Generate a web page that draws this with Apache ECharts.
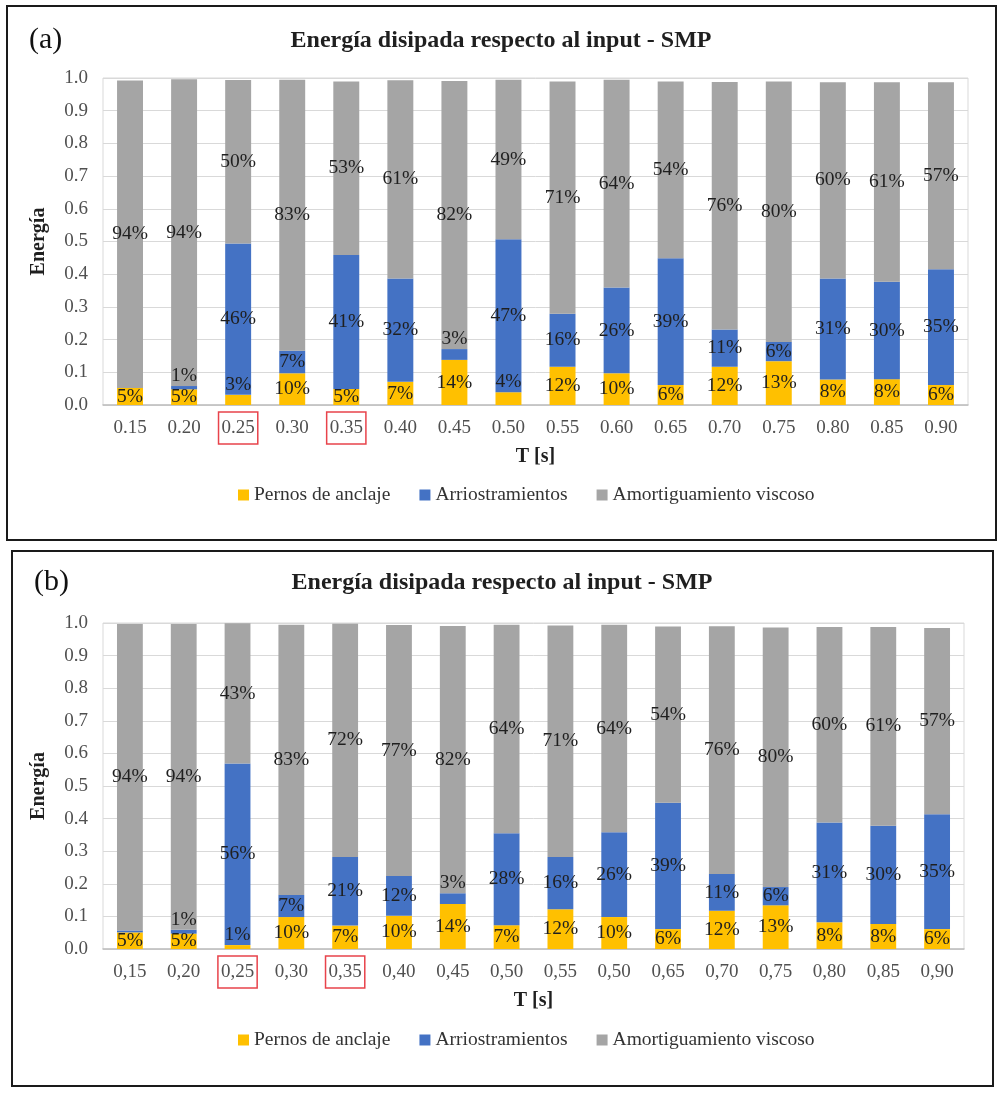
<!DOCTYPE html>
<html>
<head>
<meta charset="utf-8">
<script src="https://cdn.jsdelivr.net/npm/echarts@6/dist/echarts.min.js"></script>
<style>
  html, body { margin: 0; padding: 0; background: #fff; }
  #chart { width: 1000px; height: 1093px; }
</style>
</head>
<body>
<div id="chart"></div>
<script>
// Periods T [s]
const categories = ['0.15', '0.20', '0.25', '0.30', '0.35', '0.40', '0.45', '0.50',
                    '0.55', '0.60', '0.65', '0.70', '0.75', '0.80', '0.85', '0.90'];
// Tick labels as printed in each panel
const tickLabelsA = ['0.15', '0.20', '0.25', '0.30', '0.35', '0.40', '0.45', '0.50',
                     '0.55', '0.60', '0.65', '0.70', '0.75', '0.80', '0.85', '0.90'];
const tickLabelsB = ['0,15', '0,20', '0,25', '0,30', '0,35', '0,40', '0,45', '0,50',
                     '0,55', '0,50', '0,65', '0,70', '0,75', '0,80', '0,85', '0,90'];
// Periods boxed in red
const highlighted = ['0.25', '0.35'];

const seriesNames = ['Pernos de anclaje', 'Arriostramientos', 'Amortiguamiento viscoso'];

// Panel (a): dissipated energy fraction
const pernosA   = [0.052, 0.048, 0.031, 0.097, 0.049, 0.071, 0.138, 0.039, 0.117, 0.097, 0.061, 0.117, 0.134, 0.078, 0.079, 0.061];
const arriostA  = [0.000, 0.010, 0.463, 0.069, 0.410, 0.316, 0.033, 0.468, 0.162, 0.262, 0.388, 0.114, 0.059, 0.309, 0.298, 0.354];
const viscosoA  = [0.940, 0.938, 0.500, 0.829, 0.530, 0.606, 0.820, 0.488, 0.710, 0.636, 0.540, 0.757, 0.796, 0.600, 0.610, 0.572];

// Panel (b)
const pernosB   = [0.051, 0.047, 0.012, 0.098, 0.072, 0.102, 0.138, 0.073, 0.122, 0.098, 0.061, 0.117, 0.134, 0.082, 0.077, 0.061];
const arriostB  = [0.006, 0.012, 0.557, 0.068, 0.210, 0.122, 0.033, 0.282, 0.160, 0.260, 0.388, 0.113, 0.056, 0.306, 0.301, 0.352];
const viscosoB  = [0.940, 0.938, 0.430, 0.829, 0.716, 0.770, 0.820, 0.640, 0.710, 0.637, 0.540, 0.760, 0.796, 0.600, 0.610, 0.572];

const colors = ['#FFC000', '#4472C4', '#A5A5A5'];
const SERIF = "'Liberation Serif', 'Times New Roman', serif";

const chart = echarts.init(document.getElementById('chart'), null, { renderer: 'canvas' });

// Segment values become bar items; thin segments carry their label just above them
function toItems(values) {
  return values.map(v => {
    if (v < 0.008) return { value: v, label: { show: false } };
    if (v < 0.04) return { value: v, label: { position: 'top', distance: 0 } };
    return v;
  });
}

function makeSeries(idx, stack, data) {
  return data.map((vals, i) => ({
    name: seriesNames[i],
    type: 'bar',
    stack: stack,
    xAxisIndex: idx,
    yAxisIndex: idx,
    barWidth: '48%',
    itemStyle: { color: colors[i] },
    label: {
      show: true,
      position: 'inside',
      fontFamily: SERIF,
      fontSize: 19.5,
      color: '#1f1f1f',
      formatter: p => Math.round(p.value * 100) + '%'
    },
    data: toItems(vals)
  }));
}

function xAxisFor(idx, labels) {
  return {
    type: 'category',
    gridIndex: idx,
    data: categories,
    name: 'T [s]',
    nameLocation: 'middle',
    nameGap: 52,
    nameTextStyle: { fontFamily: SERIF, fontSize: 20, fontWeight: 'bold', color: '#1f1f1f', verticalAlign: 'middle' },
    axisLine: { lineStyle: { color: '#BFBFBF', width: 1.5 } },
    axisTick: { show: false },
    axisLabel: {
      interval: 0,
      margin: 7,
      formatter: (v, i) => (highlighted.includes(v) ? '{hl|' : '{n|') + labels[i] + '}',
      rich: {
        n: { fontFamily: SERIF, fontSize: 19, color: '#505050', padding: [7, 3, 6, 3] },
        hl: { fontFamily: SERIF, fontSize: 19, color: '#505050', padding: [7, 3, 6, 3],
              borderColor: '#E8434B', borderWidth: 1.5 }
      }
    }
  };
}

function yAxisFor(idx) {
  return {
    type: 'value',
    gridIndex: idx,
    min: 0,
    max: 1,
    interval: 0.1,
    name: 'Energía',
    nameLocation: 'middle',
    nameGap: 64,
    nameTextStyle: { fontFamily: SERIF, fontSize: 20, fontWeight: 'bold', color: '#1f1f1f', verticalAlign: 'middle' },
    axisLine: { show: false },
    axisTick: { show: false },
    splitLine: { lineStyle: { color: '#D9D9D9', width: 1 } },
    axisLabel: {
      margin: 15,
      fontFamily: SERIF,
      fontSize: 19,
      color: '#505050',
      formatter: v => v.toFixed(1)
    }
  };
}

function legendFor(top) {
  return {
    top: top,
    left: 233,
    itemWidth: 11,
    itemHeight: 11,
    itemGap: 29,
    icon: 'rect',
    data: seriesNames,
    textStyle: { fontFamily: SERIF, fontSize: 19.5, color: '#333' }
  };
}

const title = 'Energía disipada respecto al input - SMP';

chart.setOption({
  animation: false,
  backgroundColor: '#fff',
  grid: [
    { left: 103, top: 78, width: 865, height: 327, show: true, borderColor: '#D9D9D9', borderWidth: 1 },
    { left: 103, top: 623, width: 861, height: 326, show: true, borderColor: '#D9D9D9', borderWidth: 1 }
  ],
  xAxis: [xAxisFor(0, tickLabelsA), xAxisFor(1, tickLabelsB)],
  yAxis: [yAxisFor(0), yAxisFor(1)],
  legend: [legendFor(480), legendFor(1025)],
  series: [
    ...makeSeries(0, 'a', [pernosA, arriostA, viscosoA]),
    ...makeSeries(1, 'b', [pernosB, arriostB, viscosoB])
  ],
  graphic: [
    { type: 'rect', shape: { x: 7, y: 6, width: 989, height: 534 },
      style: { fill: 'none', stroke: '#1a1a1a', lineWidth: 2 }, silent: true },
    { type: 'rect', shape: { x: 12, y: 551, width: 981, height: 535 },
      style: { fill: 'none', stroke: '#1a1a1a', lineWidth: 2 }, silent: true },
    { type: 'text', x: 29, y: 40,
      style: { text: '(a)', font: "30px " + SERIF, fill: '#111', verticalAlign: 'middle' } },
    { type: 'text', x: 34, y: 582,
      style: { text: '(b)', font: "30px " + SERIF, fill: '#111', verticalAlign: 'middle' } },
    { type: 'text', x: 501, y: 41,
      style: { text: title, font: "bold 24px " + SERIF, fill: '#1f1f1f', align: 'center', verticalAlign: 'middle' } },
    { type: 'text', x: 502, y: 583,
      style: { text: title, font: "bold 24px " + SERIF, fill: '#1f1f1f', align: 'center', verticalAlign: 'middle' } }
  ]
});
</script>
</body>
</html>
